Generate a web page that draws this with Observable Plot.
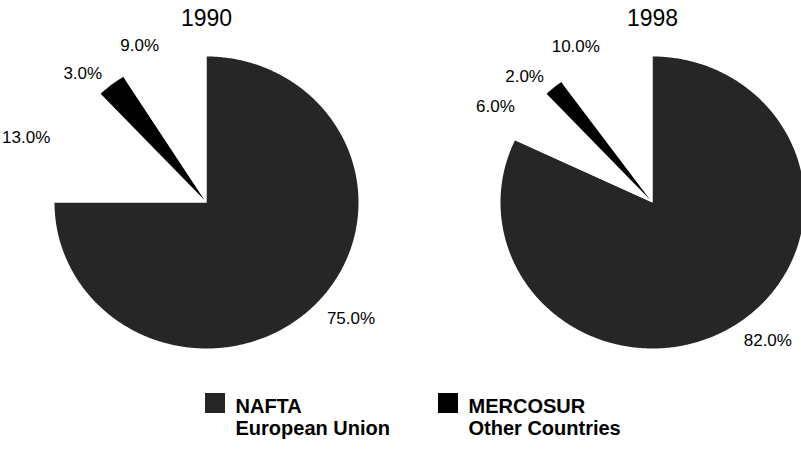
<!DOCTYPE html>
<html><head><meta charset="utf-8">
<script src="https://cdn.jsdelivr.net/npm/d3@7"></script>
<script src="https://cdn.jsdelivr.net/npm/@observablehq/plot@0.6"></script>
<style>body{margin:0;background:#fff}</style>
</head><body><div id="chart"></div>
<script>
const years = ["1990", "1998"];
const regions = ["NAFTA", "European Union", "MERCOSUR", "Other Countries"];
const shares1990 = [75, 13, 3, 9];
const shares1998 = [82, 6, 2, 10];
const colors = ["#262626", "#ffffff", "#000000", "#ffffff"];
const exploded = ["MERCOSUR"];

const W = 801, H = 450;
const centers = [206, 652], CY = 202, RX = 152, RY = 146, EXPLODE = 3;
const LX = 1.12, LY = 1.12;

const slices = [], labels = [];
[shares1990, shares1998].forEach((vals, p) => {
  const total = d3.sum(vals);
  let a0 = 0;
  vals.forEach((v, i) => {
    const a1 = a0 + v / total * 2 * Math.PI;
    const mid = (a0 + a1) / 2;
    const off = exploded.includes(regions[i]) ? EXPLODE : 0;
    const ox = centers[p] + off * Math.sin(mid), oy = CY - off * Math.cos(mid);
    const key = years[p] + regions[i];
    const n = Math.max(2, Math.ceil((a1 - a0) / 0.01));
    slices.push({key, region: regions[i], x: ox, y: oy});
    for (let k = 0; k <= n; k++) {
      const a = a0 + (a1 - a0) * k / n;
      slices.push({key, region: regions[i], x: ox + RX * Math.sin(a), y: oy - RY * Math.cos(a)});
    }
    slices.push({key, region: regions[i], x: ox, y: oy});
    labels.push({
      x: centers[p] + LX * RX * Math.sin(mid),
      y: CY - LY * RY * Math.cos(mid),
      text: v.toFixed(1) + "%",
      side: Math.sin(mid) < 0 ? "end" : "start"
    });
    a0 = a1;
  });
});

const titles = years.map((y, i) => ({x: centers[i], y: 18, text: y}));
const textCols = [235, 468], rowBase = [406, 428];
const legend = regions.map((r, i) => {
  const col = Math.floor(i / 2), row = i % 2;
  return {region: r, tx: textCols[col], ty: rowBase[row],
          x1: textCols[col] - 30, x2: textCols[col] - 10,
          y1: rowBase[row] - 13, y2: rowBase[row] + 7};
});

const chart = Plot.plot({
  width: W, height: H, margin: 0,
  style: {fontFamily: "'Liberation Sans', Arial, sans-serif", background: "#fff"},
  x: {domain: [0, W], range: [0, W], axis: null},
  y: {domain: [0, H], range: [0, H], axis: null},
  color: {domain: regions, range: colors},
  marks: [
    Plot.line(slices, {x: "x", y: "y", z: "key", fill: "region", stroke: "none", curve: "linear"}),
    Plot.text(labels.filter(d => d.side === "end"), {x: "x", y: "y", text: "text", textAnchor: "end", fontSize: 17, fill: "#000"}),
    Plot.text(labels.filter(d => d.side === "start"), {x: "x", y: "y", text: "text", textAnchor: "start", fontSize: 17, fill: "#000"}),
    Plot.text(titles, {x: "x", y: "y", text: "text", fontSize: 23, fill: "#000"}),
    Plot.rect(legend, {x1: "x1", x2: "x2", y1: "y1", y2: "y2", fill: "region"}),
    Plot.text(legend, {x: "tx", y: "ty", text: "region", textAnchor: "start", fontSize: 20, fontWeight: "bold", fill: "#000"})
  ]
});
document.getElementById("chart").appendChild(chart);
</script>
</body></html>
